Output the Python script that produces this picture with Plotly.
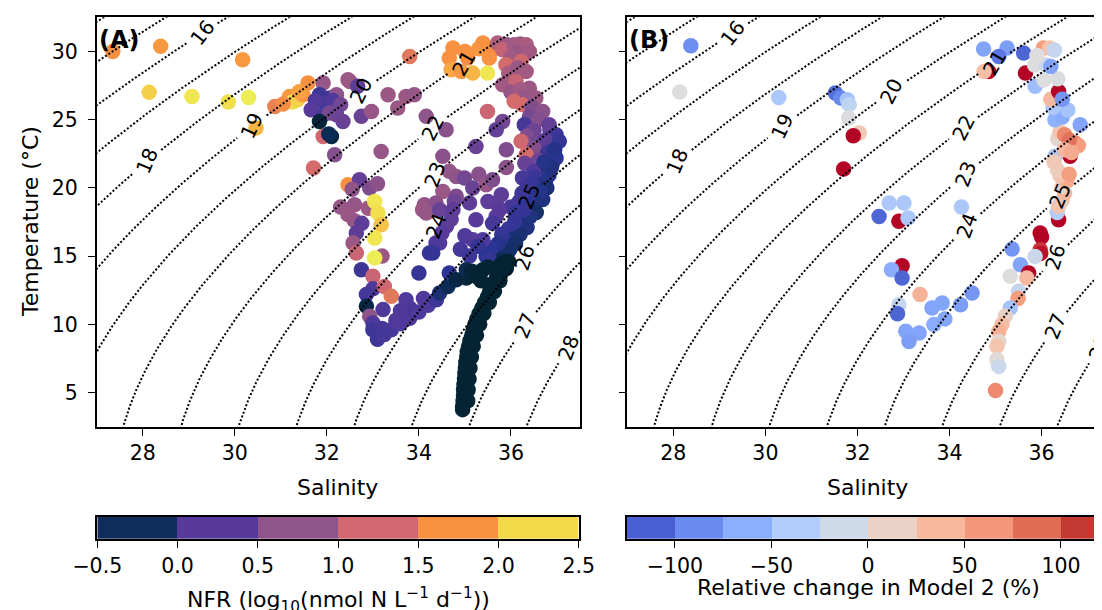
import numpy as np
import plotly.graph_objects as go

# ------------------------------------------------------------------
# Panel A data : salinity, temperature (°C), NFR (log10 nmol N L-1 d-1)
# ------------------------------------------------------------------
a_west_S = [27.35, 28.39, 30.17, 28.14, 29.07, 29.86, 30.30, 30.46, 30.87, 31.19, 31.26, 31.36, 31.48, 31.59, 31.05, 31.40]
a_west_T = [30.00, 30.37, 29.39, 27.00, 26.70, 26.29, 26.63, 24.39, 25.97, 26.70, 26.29, 26.45, 26.83, 27.68, 26.15, 27.05]
a_west_V = [1.75, 1.80, 1.80, 2.20, 2.35, 2.30, 2.40, 2.00, 1.55, 1.80, 2.30, 2.20, 1.80, 1.75, 1.70, 1.85]

a_clus_S = [31.92, 32.46, 32.50, 32.67, 31.84, 32.06, 32.21, 31.95, 32.13, 31.75, 32.30, 31.66, 31.90, 32.06, 32.21, 31.84, 32.35, 32.75, 32.97, 31.92, 32.10, 32.04, 32.17, 31.71]
a_clus_T = [27.68, 27.93, 27.80, 27.44, 26.83, 26.59, 26.83, 26.20, 26.40, 26.40, 26.10, 25.73, 25.30, 25.49, 25.36, 24.87, 24.87, 25.24, 25.60, 23.77, 23.77, 23.95, 22.43, 21.46]
a_clus_V = [0.80, 0.85, 0.85, 0.30, 0.10, 0.10, 0.75, 0.15, 0.20, 0.20, 0.50, 0.25, 0.20, 0.55, 0.45, -0.45, 0.40, 0.40, 0.80, 1.25, -0.40, -0.30, 0.65, 1.30]

a_mid_S = [33.80, 33.33, 33.72, 33.90, 33.54, 34.16, 34.59, 33.18, 34.52, 35.24, 35.49, 35.82, 35.68]
a_mid_T = [29.63, 26.83, 26.70, 26.83, 25.85, 25.24, 24.26, 22.67, 22.31, 23.04, 25.60, 24.87, 24.26]
a_mid_V = [1.45, 0.85, 0.85, 0.80, 0.85, 0.75, 0.70, 0.80, 0.70, 0.40, 1.20, 0.50, 0.35]

a_ne_S = [34.74, 34.66, 34.70, 34.92, 35.06, 35.00, 35.30, 35.39, 35.60, 35.53, 35.17, 35.49]
a_ne_T = [30.25, 29.52, 28.66, 28.53, 29.52, 30.00, 30.20, 30.61, 30.12, 29.52, 28.41, 28.41]
a_ne_V = [1.75, 1.75, 1.90, 1.80, 1.70, 1.75, 1.80, 1.75, 1.70, 1.75, 2.00, 2.35]

a_bandtop_S = [35.71, 35.90, 36.20, 35.82, 36.07, 36.33, 36.15, 36.00, 36.30, 36.40, 35.89, 36.22, 35.95, 36.15, 36.33, 35.82, 36.11, 36.40, 36.00, 36.20, 36.30, 36.07, 36.25, 36.54, 36.45, 36.69]
a_bandtop_T = [30.61, 30.50, 30.55, 30.12, 30.49, 30.49, 29.90, 29.60, 29.80, 30.00, 29.03, 29.27, 28.40, 28.80, 28.53, 27.56, 27.80, 27.31, 27.00, 27.20, 26.70, 26.34, 26.10, 26.59, 25.90, 25.60]
a_bandtop_V = [1.00, 0.85, 0.85, 1.15, 0.90, 0.95, 0.80, 0.90, 0.85, 0.90, 1.30, 1.25, 0.95, 0.85, 0.90, 0.90, 1.15, 0.85, 0.80, 0.90, 0.80, 1.30, 1.30, 0.85, 0.60, 0.70]

a_bandmid_S = [36.40, 36.60, 36.85, 36.29, 36.50, 36.83, 36.35, 36.98, 36.22, 36.60, 36.75, 37.05, 36.50, 36.33, 36.80, 36.98, 36.60, 36.30, 36.90, 36.69, 36.50]
a_bandmid_T = [25.20, 25.00, 24.20, 24.63, 24.20, 24.63, 23.80, 23.90, 23.41, 23.40, 23.50, 23.41, 22.90, 22.43, 22.60, 22.19, 22.00, 21.80, 21.80, 21.46, 21.20]
a_bandmid_V = [0.50, 0.65, 0.20, 0.15, 0.45, 0.35, 0.60, 0.10, 1.25, 0.50, 0.30, 0.05, 0.65, 1.30, 0.10, 0.00, 0.45, 0.40, 0.00, -0.35, 0.20]

a_bandlow_S = [36.83, 36.50, 36.25, 36.75, 36.58, 36.40, 36.69, 36.55, 36.18, 36.30, 36.00, 36.47, 36.40, 36.25, 36.10, 36.18, 36.30, 35.95, 36.15, 36.04, 35.85, 36.05, 35.80, 35.97, 35.65, 35.90, 35.70]
a_bandlow_T = [20.97, 20.80, 20.73, 20.40, 19.99, 19.60, 19.14, 19.20, 19.00, 18.90, 18.60, 18.53, 18.16, 18.00, 17.90, 17.43, 17.50, 17.00, 16.90, 16.70, 16.30, 16.20, 15.70, 15.47, 15.30, 15.00, 14.80]
a_bandlow_V = [0.00, 0.10, 0.15, -0.05, -0.20, 0.05, -0.10, -0.15, 0.15, 0.05, 0.15, -0.25, 0.00, -0.05, 0.10, 0.05, -0.15, 0.10, -0.20, 0.05, 0.05, -0.20, -0.05, -0.20, 0.00, -0.35, -0.30]

a_bandfill_S = [36.95, 36.88, 36.72, 36.62, 36.45, 36.35, 36.78, 36.64, 36.52, 36.38, 36.24, 36.55, 36.42, 36.28, 36.12,
                36.35, 36.20, 36.08, 35.95, 36.10, 35.92, 35.80, 35.85, 35.72, 35.60, 35.75, 35.58]
a_bandfill_T = [22.80, 21.50, 21.90, 20.20, 20.30, 20.00, 20.00, 19.70, 18.90, 19.30, 19.60, 18.20, 17.90, 18.40, 18.20,
                17.10, 16.60, 17.50, 16.00, 15.90, 15.40, 16.60, 14.60, 15.90, 14.30, 14.30, 15.60]
a_bandfill_V = [-0.05, -0.10, -0.05, -0.05, 0.05, 0.10, -0.15, -0.05, -0.10, 0.00, 0.10, -0.20, -0.10, 0.05, 0.05,
                -0.10, -0.15, 0.05, -0.05, -0.20, -0.20, 0.05, -0.40, -0.05, -0.30, -0.45, 0.00]

a_inner_S = [34.66, 34.81, 34.99, 35.30, 35.17, 35.46, 35.60, 35.90, 35.90, 34.52, 34.81, 34.77, 35.79, 35.50, 35.68, 35.10, 34.12, 34.08, 34.37, 34.16, 34.45, 34.74, 34.70, 35.68, 35.75, 35.24, 35.60, 34.60, 34.50, 35.39, 35.17, 35.00, 34.45, 34.37, 35.28, 34.90, 34.30, 34.23, 35.10, 35.46, 35.53, 34.00]
a_inner_T = [21.21, 20.84, 20.73, 21.00, 19.99, 20.23, 20.60, 21.50, 22.80, 19.74, 19.38, 19.00, 19.50, 19.00, 18.90, 18.90, 18.77, 18.40, 18.90, 18.16, 18.40, 18.40, 17.70, 17.90, 18.40, 17.67, 17.40, 17.20, 16.70, 16.20, 16.20, 16.50, 15.96, 15.96, 15.71, 15.50, 15.23, 15.23, 15.00, 14.98, 14.74, 13.77]
a_inner_V = [0.80, 0.75, 0.50, 0.70, 0.40, 0.80, 0.60, 0.70, 0.60, 0.85, 0.60, 0.45, 0.30, 0.30, 0.30, 0.30, 0.80, 0.85, 0.70, 0.80, 0.40, 0.30, 0.30, 0.25, 0.25, 0.25, 0.15, 0.30, 0.25, 0.20, 0.25, 0.20, 0.25, 0.20, 0.05, 0.15, 0.05, 0.05, 0.10, 0.00, 0.05, 0.05]

a_loop_S = [32.46, 32.71, 32.93, 33.10, 32.55, 32.60, 32.30, 32.90, 33.04, 32.46, 33.11, 32.60, 32.76, 33.18, 32.64, 33.04, 32.57, 32.64, 33.20, 33.04, 32.75, 33.00, 33.00, 33.25, 32.86, 33.40, 32.86, 33.22, 32.93]
a_loop_T = [20.23, 20.60, 19.99, 20.30, 19.90, 18.77, 18.60, 18.50, 19.00, 18.04, 18.16, 17.60, 17.40, 17.30, 16.70, 16.33, 15.96, 15.23, 15.00, 14.87, 14.00, 13.52, 12.60, 12.78, 12.18, 12.05, 11.32, 11.08, 10.60]
a_loop_V = [1.75, 0.35, 0.60, 0.70, 0.75, 0.80, 0.80, 0.85, 2.35, 0.85, 2.30, 0.80, 0.30, 2.10, 0.30, 2.35, 0.85, 1.20, 0.85, 2.40, 0.10, 1.20, 0.20, 1.25, 0.15, 1.45, -0.40, 0.20, 0.75]

a_bottom_S = [33.00, 33.00, 33.10, 33.20, 33.25, 33.40, 33.50, 33.60, 33.60, 33.80, 33.80, 33.90, 33.72, 34.00, 34.10, 34.20, 34.38, 34.45, 34.63, 34.66, 34.81, 35.03, 35.03, 35.15, 35.24, 35.35, 35.39, 35.50]
a_bottom_T = [10.10, 9.60, 8.90, 9.70, 9.25, 9.60, 10.30, 10.05, 11.00, 10.45, 11.20, 10.90, 11.80, 10.90, 11.90, 11.40, 11.80, 12.30, 12.78, 13.77, 13.27, 13.40, 14.00, 13.90, 13.52, 13.20, 14.00, 14.20]
a_bottom_V = [0.20, 0.10, 0.10, 0.15, 0.15, 0.15, 0.20, 0.20, 0.20, 0.20, 0.20, 0.15, 0.20, 0.20, 0.20, 0.20, 0.10, -0.15, -0.30, 0.00, -0.40, -0.45, -0.35, -0.45, -0.50, -0.55, -0.55, -0.55]

a_deep_S = [35.78, 35.74, 35.70, 35.66, 35.60, 35.54, 35.49, 35.43, 35.37, 35.31, 35.26, 35.22, 35.18, 35.15,
            35.11, 35.08, 35.05, 35.04, 35.02, 35.01, 35.00, 34.99, 34.98, 34.97, 34.97, 34.96, 34.95, 34.95,
            35.84, 35.76, 35.64, 35.53, 35.41, 35.32, 35.25, 35.18, 35.14, 35.11, 35.09, 35.07, 35.06, 35.95, 35.90]
a_deep_T = [14.40, 14.00, 13.60, 13.20, 12.80, 12.40, 12.00, 11.60, 11.20, 10.80, 10.40, 10.00, 9.60, 9.20,
            8.80, 8.40, 8.00, 7.60, 7.20, 6.80, 6.40, 6.00, 5.60, 5.20, 4.80, 4.40, 4.00, 3.75,
            14.00, 13.20, 12.40, 11.60, 10.80, 10.00, 9.20, 8.40, 7.60, 6.80, 6.00, 5.20, 4.40, 14.60, 14.10]
a_deep_V = [-0.80, -0.85, -0.85, -0.90, -0.90, -0.90, -0.90, -0.90, -0.90, -0.90, -0.90, -0.90, -0.90, -0.90,
            -0.90, -0.90, -0.90, -0.90, -0.90, -0.90, -0.90, -0.90, -0.90, -0.90, -0.90, -0.90, -0.90, -0.90,
            -0.80, -0.85, -0.90, -0.90, -0.90, -0.90, -0.90, -0.90, -0.90, -0.90, -0.90, -0.90, -0.90, -0.70, -0.75]

# ------------------------------------------------------------------
# Panel B data : salinity, temperature (°C), relative change in Model 2 (%)
# ------------------------------------------------------------------
b_west_S = [28.38, 28.14, 30.29, 31.52, 31.64, 31.78, 31.82, 31.81, 32.04, 31.91, 31.70]
b_west_T = [30.42, 27.03, 26.63, 26.95, 26.59, 26.46, 26.10, 25.12, 24.02, 23.82, 21.38]
b_west_R = [-85, 0, -40, -105, -90, -45, -25, -2, 25, 150, 150]

b_mid_S = [32.47, 32.69, 33.01, 32.90, 33.10, 34.26, 32.97, 32.74, 32.97, 33.36, 32.90, 32.87, 33.62, 33.84,
           33.66, 33.90, 34.24, 34.49, 33.05, 33.34, 33.12]
b_mid_T = [17.91, 18.89, 18.89, 17.55, 17.80, 18.60, 14.30, 14.00, 13.40, 12.18, 11.44, 10.78, 11.20, 11.57,
           9.98, 10.40, 11.44, 12.30, 9.49, 9.37, 8.75]
b_mid_R = [-110, -40, -40, 150, -40, -40, 150, -65, -110, 45, -20, -110, -70, -70,
           -65, -70, -75, -80, -70, -70, -75]

b_deep_S = [35.36, 35.54, 35.32, 35.72, 35.68, 35.50, 35.49, 35.32, 35.21, 35.14, 35.07, 35.07, 35.03, 35.03,
            35.07, 35.00, 35.97, 36.00, 35.97, 35.98, 35.86]
b_deep_T = [15.52, 14.37, 13.52, 13.77, 13.40, 12.42, 11.90, 11.20, 10.59, 9.98, 9.49, 8.75, 8.39, 7.41,
            6.92, 5.16, 16.70, 16.40, 15.47, 15.20, 14.98]
b_deep_R = [-80, -70, 0, 150, 40, -20, 60, -45, 15, 35, 45, 10, 30, 5,
            -15, 70, 150, 140, 105, 120, -15]

b_band_S = [36.37, 36.34, 36.37, 36.45, 36.50, 36.45, 36.55, 36.40, 36.35, 36.60, 36.62, 36.73, 36.80, 36.29,
            36.27, 36.35, 36.40, 36.50, 36.60, 36.50, 36.65, 36.29, 36.45, 36.57, 36.84, 36.25, 36.20, 36.37,
            36.45, 35.86, 36.05, 36.35, 35.65, 35.85, 36.10, 36.20, 35.61, 35.25, 35.07, 34.74, 34.85, 34.75,
            36.04, 36.18, 36.28, 35.90]
b_band_T = [17.67, 18.20, 18.65, 19.10, 19.60, 20.10, 20.50, 20.90, 21.30, 21.00, 22.31, 23.29, 23.10, 22.31,
            21.90, 23.60, 24.10, 23.90, 23.50, 22.80, 22.60, 25.00, 25.20, 25.70, 24.63, 25.90, 26.50, 27.07,
            26.50, 27.44, 27.90, 28.00, 28.41, 29.00, 29.00, 28.90, 29.88, 30.25, 29.63, 30.17, 28.53, 28.53,
            30.25, 30.25, 30.10, 29.70]
b_band_R = [150, -35, 30, 25, 40, 15, 50, 30, 20, 60, 150, 70, 60, -40,
            25, 10, 30, 70, 80, 40, 50, -60, -65, -45, -70, -40, 40, 150,
            -80, -50, 0, -2, 150, 0, -15, -70, -110, -75, -100, -70, 150, 35,
            60, 30, -20, 0]

# colourbar definitions
nfr_edges = [-0.5, 0.0, 0.5, 1.0, 1.5, 2.0, 2.5]
nfr_ticks = [-0.5, 0.0, 0.5, 1.0, 1.5, 2.0, 2.5]
nfr_ticktext = ["\u22120.5", "0.0", "0.5", "1.0", "1.5", "2.0", "2.5"]
rel_edges = [-125, -100, -75, -50, -25, 0, 25, 50, 75, 100, 125]
rel_ticks = [-100, -50, 0, 50, 100]
rel_ticktext = ["\u2212100", "\u221250", "0", "50", "100"]

sal_ticks = [28, 30, 32, 34, 36]
temp_ticks = [5, 10, 15, 20, 25, 30]

# isopycnal levels and label placement (temperature at which each label sits)
iso_levels = list(range(14, 30))
label_levels = [16, 18, 19, 20, 21, 22, 23, 24, 25, 26, 27, 28]
label_temps = [31.35, 21.94, 24.50, 27.07, 29.15, 24.39, 20.97, 17.18, 19.38, 14.87, 9.85, 8.27]
label_angles = [-52, -67, -65, -63, -60, -63, -70, -70, -67, -73, -68, -70]
LABEL_OFFSET = 1.0   # the reference labels are sigma-theta minus one

# ------------------------------------------------------------------
# styles / layout (positions given in reference pixels, page has an 8px body margin)
# ------------------------------------------------------------------
FONT = "DejaVu Sans"
OFF = 8
W, H = 1102 - OFF, 610 - OFF
thermal_scale = [[0.0, "#042333"], [1/12, "#0f2e5d"], [2/12, "#2b3494"], [3/12, "#583a9b"], [5/12, "#8f5489"],
                 [7/12, "#d16870"], [9/12, "#f99240"], [11/12, "#f3d84a"], [1.0, "#e8fa5b"]]
nfr_bin_colors = ["#0f2e5d", "#583a9b", "#8f5489", "#d16870", "#f99240", "#f3d84a"]
coolwarm_scale = [[0.0, "#3b4cc0"], [0.125, "#6282ea"], [0.25, "#8db0fe"], [0.375, "#b8d0f9"],
                  [0.5, "#dddddd"], [0.625, "#f5c4ac"], [0.75, "#f49a7b"], [0.875, "#d65244"],
                  [1.0, "#b40426"]]
rel_bin_colors = ["#4a5fd3", "#6a8bef", "#8caffd", "#b2cdfb", "#cfdae9",
                  "#ead3c6", "#f6b99b", "#f3977a", "#e16d56", "#c43a32"]


def pxl(p):
    return (p - OFF) / W


def pyl(p):
    return 1 - (p - OFF) / H


axA_dom = [pxl(96.7), pxl(580.0)]
axB_dom = [pxl(627.3), 1.0]
ax_ydom = [pyl(426.7), pyl(17.3)]
xrangeA = [27, 37.5]
xrangeB = [27, 27 + (1102 - 627.3) / ((580.0 - 96.7) / 10.5)]
yrange = [2.5, 32.5]
cbA_dom = [pxl(97.3), pxl(578.7)]
cbB_dom = [pxl(626.7), 1.0]
cb_ydom = [pyl(539), pyl(516.7)]
cbB_range = [-125, -125 + (1102 - 626.7) / (96.5 / 50)]


def sigma0(S, T):
    S = np.asarray(S, float)
    T = np.asarray(T, float)
    rw = (999.842594 + 6.793952e-2 * T - 9.095290e-3 * T**2 + 1.001685e-4 * T**3
          - 1.120083e-6 * T**4 + 6.536332e-9 * T**5)
    A = 8.24493e-1 - 4.0899e-3 * T + 7.6438e-5 * T**2 - 8.2467e-7 * T**3 + 5.3875e-9 * T**4
    B = -5.72466e-3 + 1.0227e-4 * T - 1.6546e-6 * T**2
    C = 4.8314e-4
    return rw + A * S + B * S**1.5 + C * S**2 - 1000.0


def field(S, T):
    return sigma0(S, T) - LABEL_OFFSET


def solve_S(level, T):
    T = np.asarray(T, float)
    lo = np.full_like(T, 10.0)
    hi = np.full_like(T, 45.0)
    for _ in range(60):
        mid = 0.5 * (lo + hi)
        f = field(mid, T) - level
        hi = np.where(f > 0, mid, hi)
        lo = np.where(f > 0, lo, mid)
    return 0.5 * (lo + hi)


def iso_lines(xrange, xdom, gap_px=18):
    sx = (xdom[1] - xdom[0]) * W / (xrange[1] - xrange[0])
    sy = (ax_ydom[1] - ax_ydom[0]) * H / (yrange[1] - yrange[0])
    Tg = np.arange(1.5, 33.6, 0.04)
    xs, ys = [], []
    for lev in iso_levels:
        Sg = solve_S(lev, Tg)
        keep = np.ones_like(Tg, bool)
        if lev in label_levels:
            i = label_levels.index(lev)
            tl = label_temps[i]
            sl = float(solve_S(lev, np.array([tl]))[0])
            d = np.hypot((Sg - sl) * sx, (Tg - tl) * sy)
            keep = d > gap_px
        for s, t, k in zip(Sg, Tg, keep):
            if k:
                xs.append(float(s)); ys.append(float(t))
            else:
                xs.append(None); ys.append(None)
        xs.append(None); ys.append(None)
    return xs, ys


def cat(*lists):
    out = []
    for l in lists:
        out += list(l)
    return out


sal_a = cat(a_west_S, a_clus_S, a_mid_S, a_ne_S, a_bandtop_S, a_bandmid_S, a_bandlow_S, a_bandfill_S,
            a_inner_S, a_loop_S, a_bottom_S, a_deep_S)
tem_a = cat(a_west_T, a_clus_T, a_mid_T, a_ne_T, a_bandtop_T, a_bandmid_T, a_bandlow_T, a_bandfill_T,
            a_inner_T, a_loop_T, a_bottom_T, a_deep_T)
nfr_a = cat(a_west_V, a_clus_V, a_mid_V, a_ne_V, a_bandtop_V, a_bandmid_V, a_bandlow_V, a_bandfill_V,
            a_inner_V, a_loop_V, a_bottom_V, a_deep_V)

sal_b = cat(b_west_S, b_mid_S, b_deep_S, b_band_S)
tem_b = cat(b_west_T, b_mid_T, b_deep_T, b_band_T)
rel_b = cat(b_west_R, b_mid_R, b_deep_R, b_band_R)

fig = go.Figure()

MS = 15.5
fig.add_trace(go.Scatter(x=sal_a, y=tem_a, mode="markers", xaxis="x", yaxis="y",
                         marker=dict(size=MS, color=nfr_a, colorscale=thermal_scale, cmin=-0.5, cmax=2.5,
                                     line=dict(width=0)), showlegend=False, hoverinfo="skip"))
fig.add_trace(go.Scatter(x=sal_b, y=tem_b, mode="markers", xaxis="x2", yaxis="y2",
                         marker=dict(size=MS, color=rel_b, colorscale=coolwarm_scale, cmin=-125, cmax=125,
                                     line=dict(width=0)), showlegend=False, hoverinfo="skip"))

DASH = "2px,2px"
for xa, ya, xr, xd in [("x", "y", xrangeA, axA_dom), ("x2", "y2", xrangeB, axB_dom)]:
    lx, ly = iso_lines(xr, xd)
    fig.add_trace(go.Scatter(x=lx, y=ly, mode="lines", xaxis=xa, yaxis=ya,
                             line=dict(color="black", width=2.0, dash=DASH),
                             connectgaps=False, showlegend=False, hoverinfo="skip"))

# colourbars as heatmaps
fig.add_trace(go.Heatmap(x=nfr_edges, y=[0, 1], z=[list(range(len(nfr_bin_colors)))], xaxis="x3", yaxis="y3",
                         colorscale=[[v, c] for i, c in enumerate(nfr_bin_colors)
                                     for v in (i / len(nfr_bin_colors), (i + 1) / len(nfr_bin_colors))],
                         zmin=-0.5, zmax=len(nfr_bin_colors) - 0.5, showscale=False, hoverinfo="skip"))
fig.add_trace(go.Heatmap(x=rel_edges, y=[0, 1], z=[list(range(len(rel_bin_colors)))], xaxis="x4", yaxis="y4",
                         colorscale=[[v, c] for i, c in enumerate(rel_bin_colors)
                                     for v in (i / len(rel_bin_colors), (i + 1) / len(rel_bin_colors))],
                         zmin=-0.5, zmax=len(rel_bin_colors) - 0.5, showscale=False, hoverinfo="skip"))

TICK_SIZE = 20.5
TITLE_SIZE = 22
tickfont = dict(family=FONT, size=TICK_SIZE, color="black")
common = dict(showgrid=False, zeroline=False, showline=True, linecolor="black", linewidth=1.6,
              ticks="outside", ticklen=7, tickwidth=1.4, tickcolor="black", tickfont=tickfont,
              automargin=False)
cb_y = dict(showgrid=False, zeroline=False, showline=True, linecolor="black", linewidth=1.6,
            mirror=True, ticks="", showticklabels=False, automargin=False, range=[0, 1])

anns = []
for xa, ya in [("x", "y"), ("x2", "y2")]:
    for lev, tl, ang in zip(label_levels, label_temps, label_angles):
        sl = float(solve_S(lev, np.array([tl]))[0])
        anns.append(dict(x=sl, y=tl, xref=xa, yref=ya, text=str(lev), showarrow=False,
                         textangle=ang, font=dict(family=FONT, size=20, color="black"),
                         xanchor="center", yanchor="middle"))

title_font = dict(family=FONT, size=TITLE_SIZE, color="black")
anns += [
    dict(x=pxl(97), y=pyl(40), xref="paper", yref="paper", text="<b>(A)</b>", showarrow=False,
         xanchor="left", yanchor="middle", font=dict(family=FONT, size=24, color="black")),
    dict(x=pxl(627), y=pyl(40), xref="paper", yref="paper", text="<b>(B)</b>", showarrow=False,
         xanchor="left", yanchor="middle", font=dict(family=FONT, size=24, color="black")),
    dict(x=pxl(337), y=pyl(487), xref="paper", yref="paper", text="Salinity", showarrow=False,
         xanchor="center", yanchor="middle", font=title_font),
    dict(x=pxl(867), y=pyl(487), xref="paper", yref="paper", text="Salinity", showarrow=False,
         xanchor="center", yanchor="middle", font=title_font),
    dict(x=pxl(30), y=pyl(222), xref="paper", yref="paper", text="Temperature (°C)", showarrow=False,
         textangle=-90, xanchor="center", yanchor="middle", font=title_font),
    dict(x=pxl(338), y=pyl(600), xref="paper", yref="paper",
         text="NFR (log<sub>10</sub>(nmol N L<sup>\u22121</sup> d<sup>\u22121</sup>))", showarrow=False,
         xanchor="center", yanchor="middle", font=title_font),
    dict(x=pxl(868), y=pyl(587), xref="paper", yref="paper", text="Relative change in Model 2 (%)",
         showarrow=False, xanchor="center", yanchor="middle", font=title_font),
]

fig.update_layout(
    width=W, height=H, margin=dict(l=0, r=0, t=0, b=0, pad=0), autosize=False,
    template="none",
    paper_bgcolor="white", plot_bgcolor="white",
    font=dict(family=FONT, size=TICK_SIZE, color="black"),
    xaxis=dict(domain=axA_dom, range=xrangeA, anchor="y", tickvals=sal_ticks, mirror=True,
               ticklabelstandoff=0, **common),
    yaxis=dict(domain=ax_ydom, range=yrange, anchor="x", tickvals=temp_ticks, mirror=True,
               ticklabelstandoff=6, **common),
    xaxis2=dict(domain=axB_dom, range=xrangeB, anchor="y2", tickvals=sal_ticks, mirror=True,
                ticklabelstandoff=0, **common),
    yaxis2=dict(domain=ax_ydom, range=yrange, anchor="x2", tickvals=temp_ticks, showticklabels=False,
                **common),
    xaxis3=dict(domain=cbA_dom, range=[nfr_edges[0], nfr_edges[-1]], anchor="y3", tickvals=nfr_ticks,
                ticktext=nfr_ticktext, mirror=True, ticklabelstandoff=1, **common),
    yaxis3=dict(domain=cb_ydom, anchor="x3", **cb_y),
    xaxis4=dict(domain=cbB_dom, range=cbB_range, anchor="y4", tickvals=rel_ticks,
                ticktext=rel_ticktext, mirror=True, ticklabelstandoff=1, **common),
    yaxis4=dict(domain=cb_ydom, anchor="x4", **cb_y),
    annotations=anns,
)

fig.write_html("out.html")
